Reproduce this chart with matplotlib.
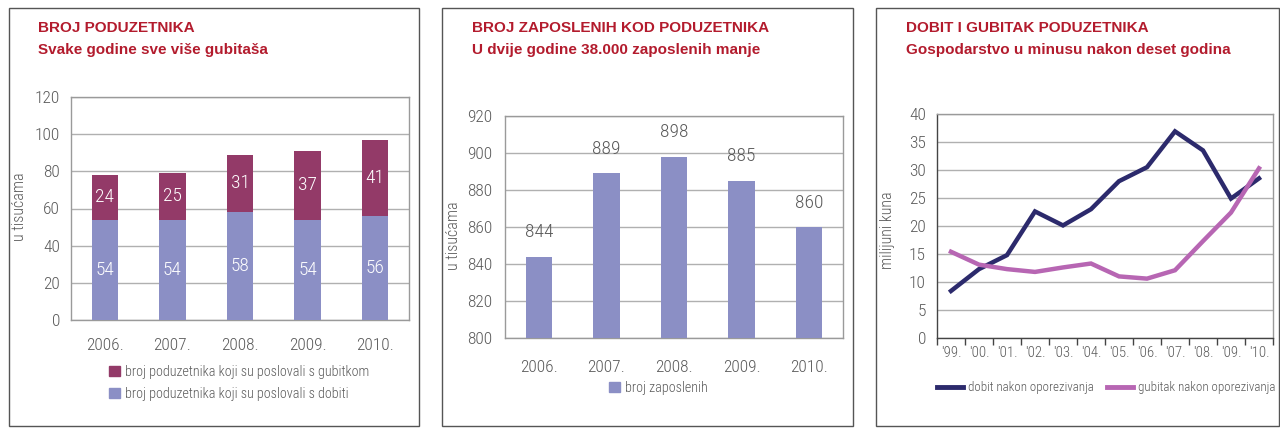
import matplotlib
matplotlib.use("Agg")
import matplotlib.pyplot as plt
from matplotlib.patches import Rectangle, Patch
from matplotlib.lines import Line2D
from matplotlib import font_manager
import numpy as np

# ---------------- data ----------------
years_bar = ["2006.", "2007.", "2008.", "2009.", "2010."]
dobit_count = [54, 54, 58, 54, 56]
gubitak_count = [24, 25, 31, 37, 41]

zaposleni = [844, 889, 898, 885, 860]

years_line = ["'99.", "'00.", "'01.", "'02.", "'03.", "'04.", "'05.", "'06.", "'07.", "'08.", "'09.", "'10."]
dobit_line = [8.4, 12.3, 14.8, 22.6, 20.1, 23.0, 28.0, 30.5, 36.9, 33.5, 24.9, 28.5]
gubitak_line = [15.4, 13.1, 12.3, 11.8, 12.6, 13.3, 11.0, 10.6, 12.1, 17.3, 22.4, 30.3]

# ---------------- fonts ----------------
names = {f.name for f in font_manager.fontManager.ttflist}
narrow_pref = ["Liberation Sans Narrow", "Roboto Condensed", "Open Sans Condensed",
               "DejaVu Sans Condensed", "Noto Sans Condensed", "Arial Narrow"]
narrow = None
for n in narrow_pref:
    if n in names:
        narrow = n
        break
if narrow is None:
    for n in sorted(names):
        if "Condensed" in n or "Narrow" in n:
            narrow = n
            break
SCALE = 1.0
if narrow is None:
    narrow = "Roboto" if "Roboto" in names else "DejaVu Sans"
    SCALE = 0.82
NARROW = [narrow, "DejaVu Sans"]
NARROW_W = "light" if narrow.startswith("Roboto") else "normal"

# ---------------- style ----------------
W, H = 1280, 428
RED = "#b31b2d"
GRAY_TXT = "#5a5a5a"
GRID = "#b0b0b0"
LAV = "#8b8fc5"
MAROON = "#933a68"
NAVY = "#2c2a6c"
ORCHID = "#b766b3"
TICK_FS = 12.5 * SCALE
LEG_FS = 10.2 * SCALE
YLAB_FS = 11.5 * SCALE
VAL_FS = 14 * SCALE

fig = plt.figure(figsize=(W / 100, H / 100), dpi=100)
fig.patch.set_facecolor("white")


def px_axes(l, t, r, b):
    return fig.add_axes([l / W, (H - b) / H, (r - l) / W, (b - t) / H])


def border(l, t, r, b):
    fig.add_artist(Rectangle((l / W, (H - b) / H), (r - l) / W, (b - t) / H,
                             transform=fig.transFigure, fill=False,
                             edgecolor="#555555", linewidth=1.0))


def titles(x, t1, t2):
    fig.text(x / W, (H - 28) / H, t1, color=RED, fontsize=11, fontweight="bold",
             family="Liberation Sans", va="center", ha="left")
    fig.text(x / W, (H - 50) / H, t2, color=RED, fontsize=11, fontweight="bold",
             family="Liberation Sans", va="center", ha="left")


def style_axes(ax, xpad, ypad, xfs=TICK_FS):
    for s in ax.spines.values():
        s.set_color("#9a9a9a")
        s.set_linewidth(1.0)
    ax.tick_params(axis="both", length=0, labelsize=TICK_FS, labelcolor=GRAY_TXT)
    ax.tick_params(axis="x", pad=xpad, labelsize=xfs)
    ax.tick_params(axis="y", pad=ypad)
    for lab in ax.get_xticklabels() + ax.get_yticklabels():
        lab.set_family(NARROW)
        lab.set_fontweight(NARROW_W)
    ax.grid(axis="y", color=GRID, linewidth=1.0)
    ax.set_axisbelow(True)


def legend_prop(size=LEG_FS):
    return {"family": NARROW, "size": size, "weight": NARROW_W}


# ---------------- panel 1 ----------------
border(9, 8, 419, 426)
titles(38, "BROJ PODUZETNIKA", "Svake godine sve više gubitaša")
ax1 = px_axes(71, 97, 409, 320)
x = np.arange(len(years_bar))
bw = 0.39
ax1.bar(x, dobit_count, width=bw, color=LAV, zorder=3)
ax1.bar(x, gubitak_count, width=bw, bottom=dobit_count, color=MAROON, zorder=3)
for i in range(len(x)):
    ax1.text(x[i], dobit_count[i] / 2, str(dobit_count[i]), color="white",
             ha="center", va="center", fontsize=VAL_FS, family=NARROW,
             fontweight=NARROW_W, zorder=4)
    ax1.text(x[i], dobit_count[i] + gubitak_count[i] / 2, str(gubitak_count[i]),
             color="white", ha="center", va="center", fontsize=VAL_FS, family=NARROW,
             fontweight=NARROW_W, zorder=4)
ax1.set_xlim(-0.5, 4.5)
ax1.set_ylim(0, 120)
ax1.set_yticks(np.arange(0, 121, 20))
ax1.set_xticks(x)
ax1.set_xticklabels(years_bar)
style_axes(ax1, 13, 8)
ax1.set_ylabel("u tisućama", fontsize=YLAB_FS, color=GRAY_TXT, family=NARROW,
               fontweight=NARROW_W)
ax1.yaxis.set_label_coords(-0.13, 0.51)
fig.legend(handles=[Patch(color=MAROON), Patch(color=LAV)],
           labels=["broj poduzetnika koji su poslovali s gubitkom",
                   "broj poduzetnika koji su poslovali s dobiti"],
           loc="center left", bbox_to_anchor=(109 / W, (H - 383) / H),
           frameon=False, handlelength=0.75, handleheight=0.75, handletextpad=0.35,
           labelspacing=0.55, prop=legend_prop(),
           labelcolor=GRAY_TXT, borderaxespad=0, borderpad=0)

# ---------------- panel 2 ----------------
border(442, 8, 853, 426)
titles(472, "BROJ ZAPOSLENIH KOD PODUZETNIKA", "U dvije godine 38.000 zaposlenih manje")
ax2 = px_axes(505, 116, 843, 338)
ax2.bar(x, zaposleni, width=bw, color=LAV, zorder=3)
for i in range(len(x)):
    ax2.annotate(str(zaposleni[i]), (x[i], zaposleni[i]), xytext=(0, 11),
                 textcoords="offset points", ha="center", va="bottom",
                 color=GRAY_TXT, fontsize=VAL_FS, family=NARROW, fontweight=NARROW_W)
ax2.set_xlim(-0.5, 4.5)
ax2.set_ylim(800, 920)
ax2.set_yticks(np.arange(800, 921, 20))
ax2.set_xticks(x)
ax2.set_xticklabels(years_bar)
style_axes(ax2, 16, 9)
ax2.set_ylabel("u tisućama", fontsize=YLAB_FS, color=GRAY_TXT, family=NARROW,
               fontweight=NARROW_W)
ax2.yaxis.set_label_coords(-0.13, 0.46)
fig.legend(handles=[Patch(color=LAV)], labels=["broj zaposlenih"],
           loc="center left", bbox_to_anchor=(609 / W, (H - 388) / H),
           frameon=False, handlelength=0.75, handleheight=0.75, handletextpad=0.35,
           prop=legend_prop(), labelcolor=GRAY_TXT,
           borderaxespad=0, borderpad=0)

# ---------------- panel 3 ----------------
border(876, 8, 1279, 426)
titles(906, "DOBIT I GUBITAK PODUZETNIKA", "Gospodarstvo u minusu nakon deset godina")
ax3 = px_axes(937, 114, 1273, 338)
xl = np.arange(len(years_line))
ax3.plot(xl, dobit_line, color=NAVY, linewidth=3.2, zorder=3, solid_joinstyle="miter")
ax3.plot(xl, gubitak_line, color=ORCHID, linewidth=3.2, zorder=3, solid_joinstyle="miter")
ax3.set_xlim(-0.5, len(years_line) - 0.5)
ax3.set_ylim(0, 40)
ax3.set_yticks(np.arange(0, 41, 5))
ax3.set_xticks(xl)
ax3.set_xticklabels(years_line)
ax3.set_xticks(np.arange(-0.5, len(years_line), 1.0), minor=True)
style_axes(ax3, 6, 8, xfs=TICK_FS * 0.86)
ax3.tick_params(axis="x", which="minor", length=5, direction="out", color="#444444", width=1)
ax3.spines["left"].set_color("#444444")
ax3.spines["bottom"].set_color("#444444")
ax3.set_ylabel("milijuni kuna", fontsize=YLAB_FS, color=GRAY_TXT, family=NARROW,
               fontweight=NARROW_W)
ax3.yaxis.set_label_coords(-0.125, 0.48)
fig.legend(handles=[Line2D([], [], color=NAVY, linewidth=3.5),
                    Line2D([], [], color=ORCHID, linewidth=3.5)],
           labels=["dobit nakon oporezivanja", "gubitak nakon oporezivanja"],
           loc="center left", bbox_to_anchor=(937 / W, (H - 388) / H), ncol=2,
           frameon=False, handlelength=2.0, handletextpad=0.4, columnspacing=1.0,
           prop=legend_prop(LEG_FS * 0.92), labelcolor=GRAY_TXT,
           borderaxespad=0, borderpad=0)

fig.savefig("out.png", dpi=100, facecolor="white")
